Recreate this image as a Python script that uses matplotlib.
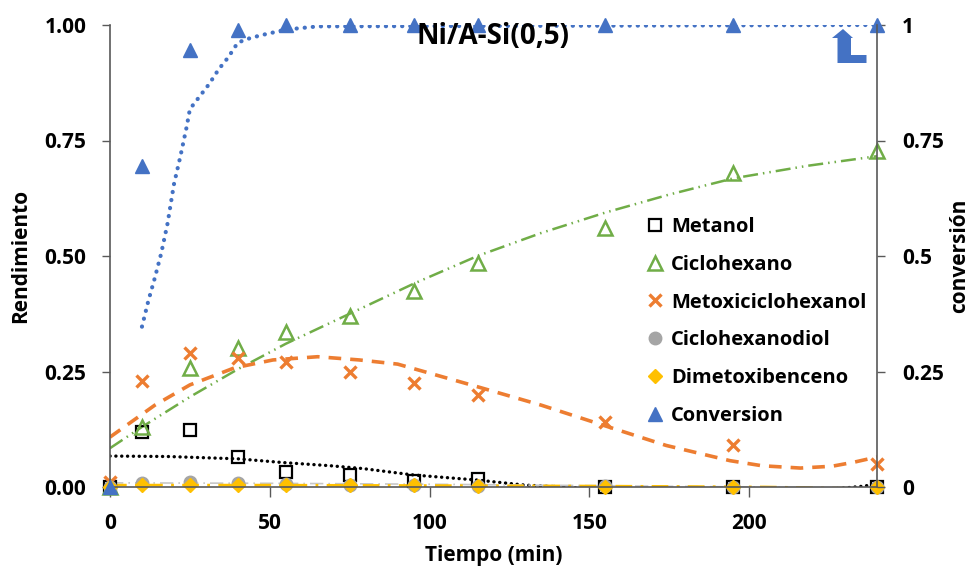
import matplotlib
matplotlib.use("Agg")
import matplotlib.pyplot as plt
from matplotlib.patches import Polygon

plt.rcParams['font.family'] = ['Open Sans', 'DejaVu Sans']
plt.rcParams['font.weight'] = 'bold'

# measured points
tiempo = [0, 10, 25, 40, 55, 75, 95, 115, 155, 195, 240]
metanol = [0.0, 0.12, 0.123, 0.065, 0.033, 0.025, 0.012, 0.018, 0.0, 0.0, 0.0]
ciclohexano = [0.0, 0.13, 0.257, 0.30, 0.335, 0.37, 0.425, 0.485, 0.56, 0.68, 0.727]
metoxi = [0.01, 0.229, 0.29, 0.28, 0.27, 0.25, 0.225, 0.20, 0.14, 0.09, 0.05]
diol = [0.0, 0.008, 0.01, 0.008, 0.006, 0.005, 0.004, 0.002, 0.002, 0.0, 0.0]
dimetoxi = [0.0, 0.005, 0.005, 0.005, 0.005, 0.004, 0.004, 0.003, 0.0, 0.0, 0.0]
conversion = [0.0, 0.695, 0.945, 0.99, 1.0, 1.0, 1.0, 1.0, 1.0, 1.0, 1.0]

# trend lines
conv_tr_t = [10, 12, 14, 16, 18, 20, 22, 24, 25, 28, 31, 34, 37, 40, 44, 48, 55, 65, 240]
conv_tr = [0.347, 0.403, 0.452, 0.505, 0.57, 0.655, 0.715, 0.78, 0.818, 0.845, 0.872,
           0.904, 0.93, 0.962, 0.972, 0.979, 0.99, 0.997, 1.0]
metoxi_tr_t = [0, 14, 25, 39, 51, 65, 78, 90, 115, 135, 156, 174, 194, 204, 216, 226, 233, 240]
metoxi_tr = [0.108, 0.177, 0.221, 0.258, 0.275, 0.282, 0.275, 0.266, 0.217, 0.177, 0.13,
             0.09, 0.057, 0.046, 0.041, 0.045, 0.054, 0.065]
ciclo_tr_t = [0, 10, 25, 40, 55, 75, 95, 115, 135, 155, 175, 195, 218, 240]
ciclo_tr = [0.084, 0.13, 0.195, 0.255, 0.31, 0.375, 0.44, 0.5, 0.55, 0.594, 0.633, 0.668, 0.695, 0.716]
metanol_tr_t = [0, 18, 40, 54, 69, 79, 95, 115, 130, 142, 160, 190, 215, 230, 236, 240]
metanol_tr = [0.067, 0.066, 0.061, 0.053, 0.046, 0.04, 0.026, 0.015, 0.004, 0.0, -0.008,
              -0.014, -0.01, -0.002, 0.002, 0.007]
diol_tr_t = [0, 50, 100, 150, 200, 240]
diol_tr = [0.009, 0.008, 0.006, 0.003, 0.0, -0.003]
dimetoxi_tr_t = [0, 50, 100, 150, 205, 240]
dimetoxi_tr = [0.004, 0.004, 0.003, 0.002, 0.0, -0.004]

labels = ['Metanol', 'Ciclohexano', 'Metoxiciclohexanol', 'Ciclohexanodiol',
          'Dimetoxibenceno', 'Conversion']
c_black, c_green, c_orange = '#000000', '#70AD47', '#ED7D31'
c_gray, c_yellow, c_blue = '#A5A5A5', '#FFC000', '#4472C4'

fig = plt.figure(figsize=(9.8, 5.71), dpi=100)
ax = fig.add_axes([110 / 980, 1 - 487 / 571, 767 / 980, 462 / 571])
ax2 = ax.twinx()

# trend lines
ax.plot(metanol_tr_t, metanol_tr, color=c_black, ls=(0, (0.05, 1.7)), lw=2.4, dash_capstyle='round')
ax.plot(ciclo_tr_t, ciclo_tr, color=c_green, ls=(0, (6, 2, 0.6, 2, 0.6, 2)), lw=1.8)
ax.plot(metoxi_tr_t, metoxi_tr, color=c_orange, ls=(0, (3.5, 2.5)), lw=2.6)
ax.plot(diol_tr_t, diol_tr, color='#C8C8C8', ls=(0, (8, 3, 1, 3)), lw=1.2)
ax.plot(dimetoxi_tr_t, dimetoxi_tr, color=c_yellow, ls=(0, (6, 3, 1, 3)), lw=2)
ax2.plot(conv_tr_t, conv_tr, color=c_blue, ls=(0, (0.05, 1.9)), lw=3, dash_capstyle='round')

# markers
ax.plot(tiempo, metanol, ls='none', marker='s', ms=9, mfc='none', mec=c_black, mew=1.6,
        clip_on=False, label=labels[0])
ax.plot(tiempo, ciclohexano, ls='none', marker='^', ms=10, mfc='none', mec=c_green, mew=1.8,
        clip_on=False, label=labels[1])
ax.plot(tiempo, metoxi, ls='none', marker='x', ms=8, mec=c_orange, mew=2.4,
        clip_on=False, label=labels[2])
ax.plot(tiempo, diol, ls='none', marker='o', ms=9, mfc=c_gray, mec=c_gray,
        clip_on=False, label=labels[3])
ax.plot(tiempo, dimetoxi, ls='none', marker='D', ms=7.5, mfc=c_yellow, mec=c_yellow,
        clip_on=False, label=labels[4])
ax2.plot(tiempo, conversion, ls='none', marker='^', ms=10, mfc=c_blue, mec=c_blue,
         clip_on=False, label=labels[5])

ax.set_xlim(0, 240)
ax.set_ylim(0, 1)
ax2.set_ylim(0, 1)
ax.set_xticks([0, 50, 100, 150, 200])
ax.set_yticks([0, 0.25, 0.5, 0.75, 1.0])
ax.set_yticklabels(['0.00', '0.25', '0.50', '0.75', '1.00'])
ax2.set_yticks([0, 0.25, 0.5, 0.75, 1.0])
ax2.set_yticklabels(['0', '0.25', '0.5', '0.75', '1'])

spine_c = '#595959'
for a in (ax, ax2):
    a.spines['top'].set_visible(False)
    for s in a.spines.values():
        s.set_color(spine_c)
        s.set_linewidth(1.2)
ax.spines['right'].set_visible(False)
ax2.spines['left'].set_visible(False)
ax2.spines['bottom'].set_visible(False)

ax.tick_params(axis='y', direction='out', length=6, width=1, color=spine_c, pad=11, labelsize=15)
ax.tick_params(axis='x', direction='out', length=7, width=1, color=spine_c, pad=12, labelsize=15)
ax2.tick_params(axis='y', direction='out', length=6, width=1, color=spine_c, pad=12, labelsize=15)

ax.set_xlabel('Tiempo (min)', fontsize=15, fontweight='bold')
ax.set_ylabel('Rendimiento', fontsize=15, fontweight='bold')
ax2.set_ylabel('conversión', fontsize=15, fontweight='bold')
ax.xaxis.set_label_coords(0.5, -0.148)
ax.yaxis.set_label_coords(-0.116, 0.5)
ax2.yaxis.set_label_coords(1.108, 0.5)
ax.xaxis.label.set_va('center')
ax.yaxis.label.set_va('center')
ax2.yaxis.label.set_va('center')

fig.text(493 / 980, 1 - 36 / 571, 'Ni/A-Si(0,5)', ha='center', va='center',
         fontsize=20, fontweight='bold')

h1, l1 = ax.get_legend_handles_labels()
h2, l2 = ax2.get_legend_handles_labels()
leg = ax2.legend(h1 + h2, l1 + l2, loc='upper left', bbox_to_anchor=(639 / 980, 1 - 209 / 571),
                 bbox_transform=fig.transFigure, frameon=False, fontsize=14.5,
                 handlelength=0.8, handletextpad=0.4, labelspacing=0.88, borderaxespad=0)
for t in leg.get_texts():
    t.set_fontweight('bold')

# small bent arrow shape near top right
arrow_px = [(837.5, 63), (866.5, 63), (866.5, 55), (851, 55), (851, 38), (853, 38),
            (843, 29), (832, 38), (837.5, 38)]
fig.patches.append(Polygon([(x / 980, 1 - y / 571) for x, y in arrow_px], closed=True,
                           transform=fig.transFigure, facecolor=c_blue, edgecolor='none'))

fig.savefig('out.png', dpi=100)
